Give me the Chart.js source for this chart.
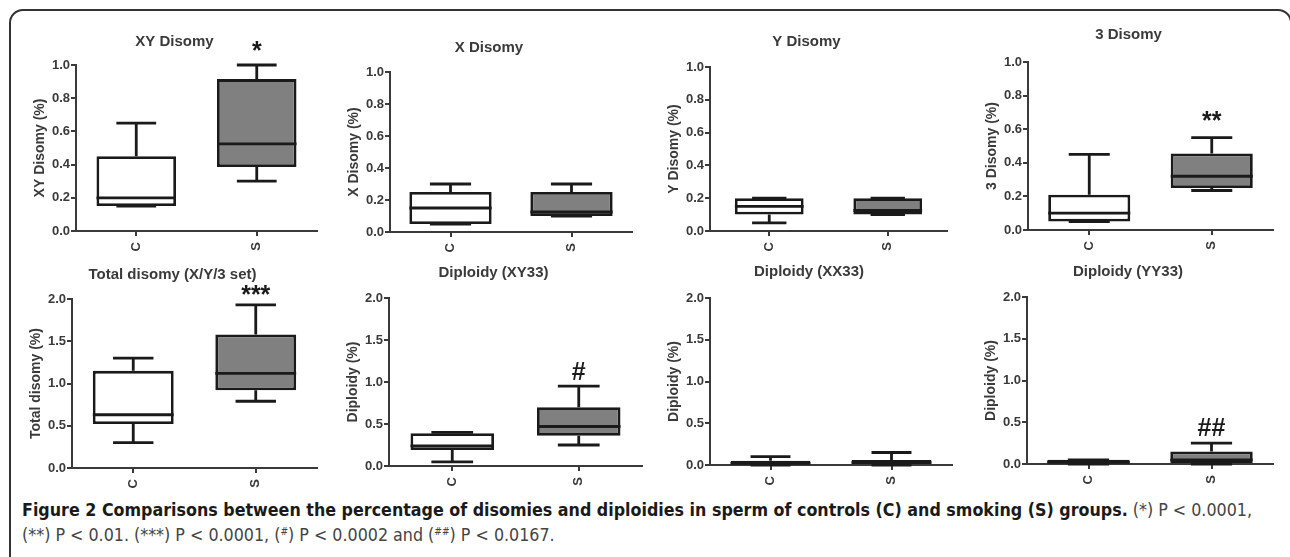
<!DOCTYPE html>
<html>
<head>
<meta charset="utf-8">
<script src="https://cdn.jsdelivr.net/npm/chart.js"></script>
<style>
  body { margin: 0; width: 1290px; height: 557px; overflow: hidden; position: relative; background: #fff; }
  #frame { position: absolute; left: 9px; top: 9px; width: 1283px; height: 600px; border: 2px solid #333; border-radius: 14px; box-sizing: border-box; }
  .panel { position: absolute; }
  #cap { position: absolute; left: 22px; top: 498px; font-family: 'Liberation Sans Narrow', 'DejaVu Sans Condensed', sans-serif; font-size: 17.5px; line-height: 25px; white-space: nowrap; color: #444; }
  .ln { display: inline-block; transform-origin: 0 0; }
  .ln b { color: #1a1a1a; }
  sup { font-size: 10px; line-height: 0; vertical-align: 6px; }
</style>
</head>
<body>
<div id="frame"></div>
<div id="cap">
  <div class="ln" id="l1"><b>Figure 2 Comparisons between the percentage of disomies and diploidies in sperm of controls (C) and smoking (S) groups.</b> (*) P &lt; 0.0001,</div><br>
  <div class="ln" id="l2">(**) P &lt; 0.01. (***) P &lt; 0.0001, (<sup>#</sup>) P &lt; 0.0002 and (<sup>##</sup>) P &lt; 0.0167.</div>
</div>
<script>
// chart data
var groups = ['C', 'S'];
var titles = ['XY Disomy', 'X Disomy', 'Y Disomy', '3 Disomy', 'Total disomy (X/Y/3 set)', 'Diploidy (XY33)', 'Diploidy (XX33)', 'Diploidy (YY33)'];
var yTitles = ['XY Disomy (%)', 'X Disomy (%)', 'Y Disomy (%)', '3 Disomy (%)', 'Total disomy (%)', 'Diploidy (%)', 'Diploidy (%)', 'Diploidy (%)'];
var yMax = [1, 1, 1, 1, 2, 2, 2, 2];
var yStep = [0.2, 0.2, 0.2, 0.2, 0.5, 0.5, 0.5, 0.5];
// min, q1, median, q3, max
var controlStats = [
  [0.15, 0.15, 0.20, 0.45, 0.65],
  [0.05, 0.05, 0.15, 0.25, 0.30],
  [0.05, 0.10, 0.15, 0.20, 0.20],
  [0.05, 0.05, 0.10, 0.21, 0.45],
  [0.30, 0.52, 0.63, 1.15, 1.30],
  [0.05, 0.19, 0.24, 0.39, 0.40],
  [0.00, 0.00, 0.02, 0.05, 0.10],
  [0.00, 0.00, 0.02, 0.05, 0.05]
];
var smokerStats = [
  [0.30, 0.385, 0.525, 0.915, 1.00],
  [0.10, 0.10, 0.125, 0.25, 0.30],
  [0.10, 0.10, 0.125, 0.20, 0.20],
  [0.235, 0.25, 0.32, 0.455, 0.55],
  [0.79, 0.92, 1.12, 1.58, 1.93],
  [0.25, 0.36, 0.47, 0.70, 0.95],
  [0.00, 0.00, 0.03, 0.06, 0.15],
  [0.00, 0.00, 0.05, 0.15, 0.25]
];
var marks = ['*', '', '', '**', '***', '#', '', '##'];
var markAt = [1.08, null, null, 0.645, 2.04, 1.11, null, 0.42];

// layout: chart area left, top, right, bottom and title centre
var areas = [
  [76, 65, 317, 231], [390, 72, 632, 232], [710, 67, 947, 231], [1028, 62, 1273, 230],
  [72, 299, 317, 468], [389, 298, 642, 466], [710, 298, 952, 465], [1027, 297, 1273, 464]
];
var titleX = [183, 498, 815, 1135, 193, 515, 832, 1150];
var titleY = [42, 48, 42, 35, 275, 273, 272, 272];
var boxPct = [0.66, 0.68, 0.58, 0.67, 0.66, 0.66, 0.66, 0.67];
var YW = 44;
var XH = 30;
var TITLE_SIZE = 15;
var ink = '#1a1a1a';
var axisColor = '#3a3a3a';
var fontFamily = "'Liberation Sans', Arial, sans-serif";

// whiskers, medians and significance marks
var boxPlugin = {
  id: 'boxWhiskers',
  afterDatasetsDraw: function(chart) {
    var ctx = chart.ctx;
    var y = chart.scales.y;
    var ds = chart.data.datasets[0];
    var meta = chart.getDatasetMeta(0);
    ctx.save();
    ctx.strokeStyle = ink;
    ctx.lineWidth = 2.8;
    for (var j = 0; j < meta.data.length; j++) {
      var bar = meta.data[j];
      var st = ds.stats[j];
      var x = bar.x;
      var w = bar.width;
      ctx.beginPath();
      ctx.moveTo(x, y.getPixelForValue(st[3]));
      ctx.lineTo(x, y.getPixelForValue(st[4]));
      ctx.moveTo(x, y.getPixelForValue(st[1]));
      ctx.lineTo(x, y.getPixelForValue(st[0]));
      ctx.moveTo(x - w / 4, y.getPixelForValue(st[4]));
      ctx.lineTo(x + w / 4, y.getPixelForValue(st[4]));
      ctx.moveTo(x - w / 4, y.getPixelForValue(st[0]));
      ctx.lineTo(x + w / 4, y.getPixelForValue(st[0]));
      ctx.moveTo(x - w / 2, y.getPixelForValue(st[2]));
      ctx.lineTo(x + w / 2, y.getPixelForValue(st[2]));
      ctx.stroke();
    }
    if (ds.mark) {
      var sBar = meta.data[1];
      ctx.fillStyle = ink;
      ctx.textAlign = 'center';
      ctx.textBaseline = 'middle';
      ctx.font = 'bold 25px ' + fontFamily;
      ctx.fillText(ds.mark, sBar.x, y.getPixelForValue(ds.markAt));
    }
    ctx.restore();
  }
};

function drawPanel(i) {
  var a = areas[i];
  var left = a[0] - YW;
  var right = 2 * titleX[i] - left;
  var top = Math.round(titleY[i] - TITLE_SIZE * 0.6);
  var pb = a[1] - top - TITLE_SIZE * 1.2;
  var width = Math.round(right - left);
  var height = Math.round(a[3] - top + XH);

  var holder = document.createElement('div');
  holder.className = 'panel';
  holder.style.left = left + 'px';
  holder.style.top = top + 'px';
  holder.style.width = width + 'px';
  holder.style.height = height + 'px';
  var canvas = document.createElement('canvas');
  canvas.width = width;
  canvas.height = height;
  canvas.style.width = width + 'px';
  canvas.style.height = height + 'px';
  holder.appendChild(canvas);
  document.body.appendChild(holder);

  var tickFont = { family: fontFamily, size: 13, weight: 'bold' };

  new Chart(canvas, {
    type: 'bar',
    data: {
      labels: groups,
      datasets: [{
        data: [[controlStats[i][1], controlStats[i][3]], [smokerStats[i][1], smokerStats[i][3]]],
        stats: [controlStats[i], smokerStats[i]],
        mark: marks[i],
        markAt: markAt[i],
        backgroundColor: ['#ffffff', '#808080'],
        borderColor: ink,
        borderWidth: 2.8,
        borderSkipped: false,
        barPercentage: boxPct[i],
        categoryPercentage: 1
      }]
    },
    options: {
      responsive: false,
      animation: false,
      events: [],
      layout: { padding: { left: 0, right: width - (a[2] - left), top: 0, bottom: 0 } },
      plugins: {
        legend: { display: false },
        tooltip: { enabled: false },
        title: {
          display: true,
          text: titles[i],
          color: axisColor,
          font: { family: fontFamily, size: TITLE_SIZE, weight: 'bold', lineHeight: 1.2 },
          padding: { top: 0, bottom: pb }
        }
      },
      scales: {
        x: {
          grid: { drawOnChartArea: false, offset: false, tickLength: 5, color: axisColor, lineWidth: 2 },
          border: { color: axisColor, width: 2 },
          ticks: { minRotation: 90, maxRotation: 90, color: axisColor, font: tickFont, padding: 6 },
          afterFit: function(s) { s.height = XH; }
        },
        y: {
          min: 0,
          max: yMax[i],
          grid: { drawOnChartArea: false, tickLength: 5, color: axisColor, lineWidth: 2 },
          border: { color: axisColor, width: 2 },
          ticks: {
            stepSize: yStep[i],
            color: axisColor,
            font: tickFont,
            padding: 1,
            callback: function(v) { return v.toFixed(1); }
          },
          title: {
            display: true,
            text: yTitles[i],
            color: axisColor,
            font: { family: fontFamily, size: 14, weight: 'bold' },
            padding: { top: 0, bottom: 0 }
          },
          afterFit: function(s) { s.width = YW; }
        }
      }
    },
    plugins: [boxPlugin]
  });
}

for (var i = 0; i < 8; i++) {
  drawPanel(i);
}

// fit caption lines to the width of the original
var l1 = document.getElementById('l1');
var l2 = document.getElementById('l2');
var f = 1230 / l1.getBoundingClientRect().width;
l1.style.transform = 'scaleX(' + f + ')';
l2.style.transform = 'scaleX(' + f + ')';
</script>
</body>
</html>
